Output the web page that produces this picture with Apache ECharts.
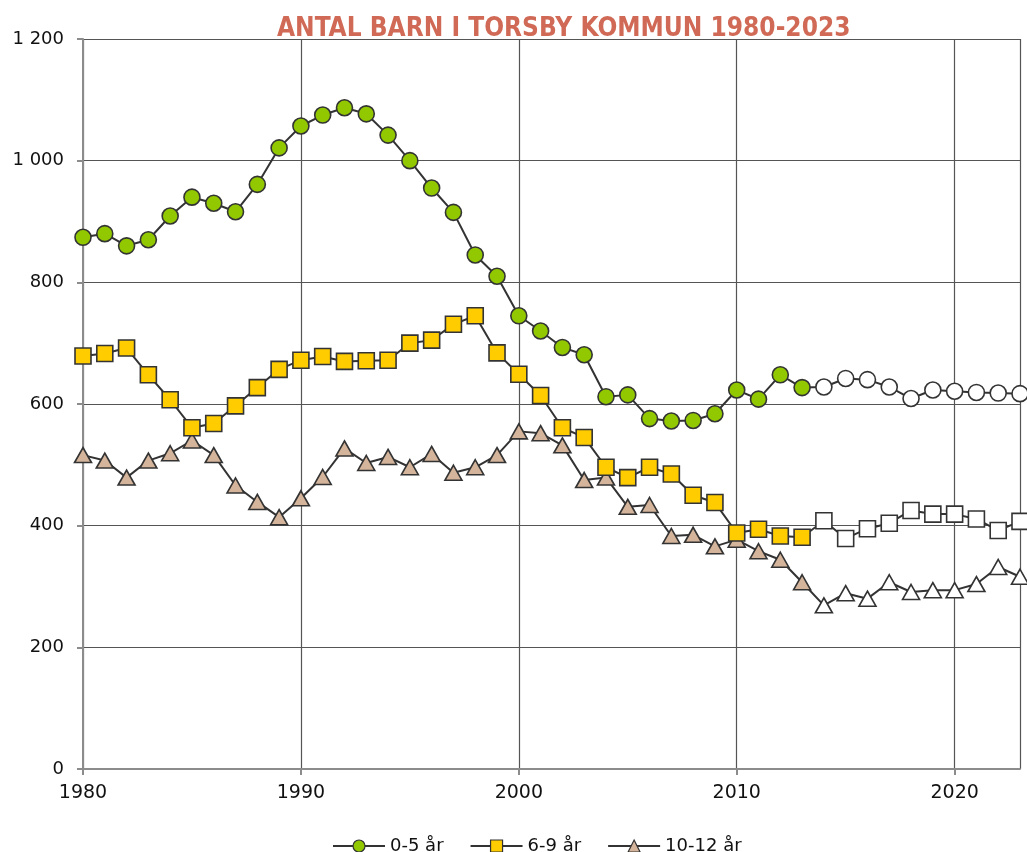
<!DOCTYPE html>
<html><head><meta charset="utf-8">
<script src="https://cdn.jsdelivr.net/npm/echarts@6/dist/echarts.min.js"></script>
<style>html,body{margin:0;padding:0;background:#fff}#c{width:1027px;height:852px}</style>
</head><body><div id="c"></div>
<script>
const years = [1980,1981,1982,1983,1984,1985,1986,1987,1988,1989,1990,1991,1992,1993,1994,1995,1996,1997,1998,1999,2000,2001,2002,2003,2004,2005,2006,2007,2008,2009,2010,2011,2012,2013,2014,2015,2016,2017,2018,2019,2020,2021,2022,2023];
const age0to5 = [874,880,860,870,909,940,930,916,961,1021,1057,1075,1087,1077,1042,1000,955,915,845,810,745,720,693,681,612,615,576,572,573,584,623,608,648,627,628,642,640,628,609,623,621,619,618,617];
const age6to9 = [679,683,692,648,607,561,568,597,627,657,672,678,670,671,672,700,705,731,745,684,649,614,561,545,496,479,496,485,450,438,388,394,383,381,408,379,395,404,425,419,419,411,392,407];
const age10to12 = [516,507,479,507,519,540,516,466,439,414,445,480,527,503,513,496,518,487,496,516,555,552,532,475,479,431,434,383,385,366,377,358,344,307,269,289,280,307,291,294,294,304,332,316];
const forecastFrom = 2014;
const seriesNames = ['0-5 år','6-9 år','10-12 år'];
const yTicks = {min:0, max:1200, interval:200};
const xTicks = {min:1980, max:2023, interval:10};

const fills = ['#92c800','#ffcc00','#d4b59c'];
const symbols = ['circle','rect','triangle'];
const sizes = [16,16,[17,15]];
const edge = '#333333';
const font = 'DejaVu Sans, Verdana, sans-serif';

function build(vals, fill){
  return years.map((y,i)=>({value:[y, vals[i]], itemStyle:{color: y>=forecastFrom ? '#ffffff' : fill, borderColor: edge, borderWidth:1.6}}));
}
const allVals = [age0to5, age6to9, age10to12];
const series = allVals.map((vals,k)=>({
  name: seriesNames[k], type:'line', data: build(vals, fills[k]),
  symbol: symbols[k], symbolSize: sizes[k], showAllSymbol:true,
  lineStyle:{color:edge, width:2},
  itemStyle:{color:fills[k], borderColor:edge, borderWidth:1.6},
  emphasis:{disabled:true}, animation:false, clip:false, z: 3-k
}));

const chart = echarts.init(document.getElementById('c'), null, {renderer:'canvas'});
chart.setOption({
  animation:false,
  backgroundColor:'#ffffff',
  title:{text:'ANTAL BARN I TORSBY KOMMUN 1980-2023', left:272, top:11,
    textStyle:{fontFamily:'Liberation Sans Narrow, DejaVu Sans Condensed, sans-serif', fontWeight:'bold', fontSize:26, color:'#d06a56'}},
  grid:{left:83, right:7, top:39, bottom:83, containLabel:false},
  legend:{data: seriesNames.map((n,k)=>({name:n, itemStyle:{color:fills[k], borderColor:edge, borderWidth:1.2}})), left:327, top:832, itemWidth:52, itemHeight:15, itemGap:26,
    textStyle:{fontFamily:font, fontSize:18, color:'#111'}},
  xAxis:{type:'value', min:xTicks.min, max:xTicks.max, interval:xTicks.interval,
    axisLine:{show:true, lineStyle:{color:'#8c8c8c', width:2}},
    axisTick:{show:true, length:6, lineStyle:{color:'#8c8c8c', width:2}},
    axisLabel:{showMaxLabel:false, margin:15, fontFamily:font, fontSize:19, color:'#111', formatter: v=>String(v)},
    splitLine:{show:true, lineStyle:{color:'#555', width:1.2}}},
  yAxis:{type:'value', min:yTicks.min, max:yTicks.max, interval:yTicks.interval,
    axisLine:{show:true, lineStyle:{color:'#8c8c8c', width:2}},
    axisTick:{show:true, length:6, lineStyle:{color:'#8c8c8c', width:2}},
    axisLabel:{margin:19, fontFamily:font, fontSize:18, color:'#111',
      formatter: v=> String(v).replace(/\B(?=(\d{3})+(?!\d))/g,' ')},
    splitLine:{show:true, lineStyle:{color:'#555', width:1.2}}},
  series: series
});
</script></body></html>
